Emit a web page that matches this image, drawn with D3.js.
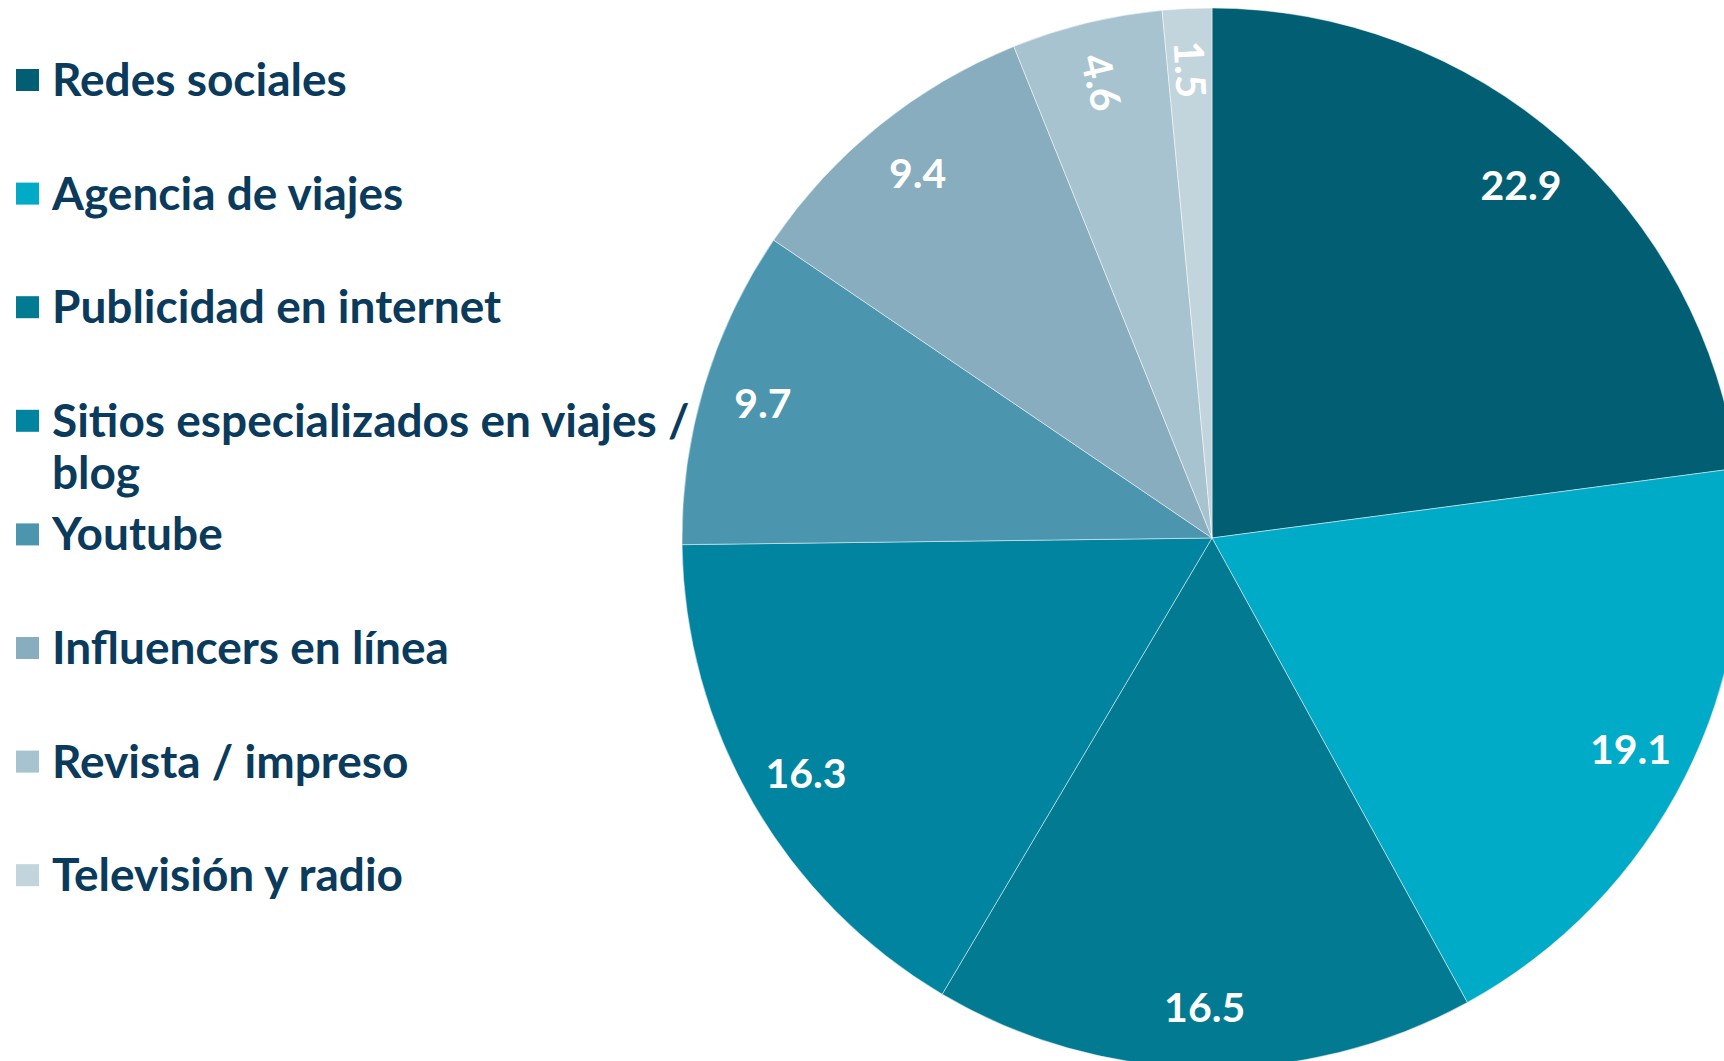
<!DOCTYPE html>
<html>
<head>
<meta charset="utf-8">
<script src="https://cdn.jsdelivr.net/npm/d3@7"></script>
<style>
  html, body { margin: 0; padding: 0; background: #fff; overflow: hidden; }
  svg { display: block; }
</style>
</head>
<body>
<div id="chart"></div>
<script>
var categories = ["Redes sociales", "Agencia de viajes", "Publicidad en internet",
    "Sitios especializados en viajes / blog", "Youtube", "Influencers en línea",
    "Revista / impreso", "Televisión y radio"];
var values = [22.9, 19.1, 16.5, 16.3, 9.7, 9.4, 4.6, 1.5];
var colors = ["#025f73", "#00abc7", "#017a92", "#0084a0", "#4b96ae", "#87adbf", "#a7c3cf", "#c2d5dd"];

var width = 1724, height = 1061;

var svg = d3.select("#chart").append("svg")
    .attr("width", width)
    .attr("height", height);

// pie (partly cropped by the right and bottom edges)
var cx = 1212, cy = 538, radius = 530;

var pie = d3.pie().sort(null).value(d => d.value);
var arc = d3.arc().innerRadius(0).outerRadius(radius);
var labelArc = d3.arc().innerRadius(radius * 0.885).outerRadius(radius * 0.885);

var data = categories.map((c, i) => ({ name: c, value: values[i], color: colors[i] }));
var arcs = pie(data);

var pie_g = svg.append("g").attr("transform", "translate(" + cx + "," + cy + ")");

pie_g.selectAll("path")
    .data(arcs)
    .enter()
    .append("path")
    .attr("d", arc)
    .attr("fill", d => d.data.color)
    .attr("stroke", "rgba(255,255,255,0.6)")
    .attr("stroke-width", 0.8);

pie_g.selectAll(".lbl")
    .data(arcs)
    .enter()
    .append("text")
    .attr("class", "lbl")
    .attr("transform", d => {
        let p = labelArc.centroid(d);
        let mid = (d.startAngle + d.endAngle) / 2 * 180 / Math.PI;
        // the two thin slices get their labels turned along the radius
        let rot = d.data.value < 5 ? mid - 270 : 0;
        return "translate(" + p[0] + "," + p[1] + ") rotate(" + rot + ")";
    })
    .attr("text-anchor", "middle")
    .attr("dy", "0.36em")
    .attr("fill", "#fff")
    .attr("font-family", "Lato")
    .attr("font-weight", 700)
    .attr("font-size", 41)
    .text(d => d.value.toFixed(1));

// legend
var leg_g = svg.append("g");
var rowStep = 113.6, firstRow = 80;

var rows = leg_g.selectAll(".row")
    .data(data)
    .enter()
    .append("g")
    .attr("class", "row")
    .attr("transform", (d, i) => "translate(16," + (firstRow + i * rowStep) + ")");

rows.append("rect")
    .attr("x", 0)
    .attr("y", -11)
    .attr("width", 23)
    .attr("height", 22)
    .attr("fill", d => d.color);

rows.each(function (d) {
    let t = d3.select(this).append("text")
        .attr("x", 36)
        .attr("y", 16)
        .attr("fill", "#0a3a5c")
        .attr("font-family", "Lato")
        .attr("font-weight", 700)
        .attr("font-size", 46);
    // long label wraps after the slash
    let parts = d.name.indexOf("/ blog") > 0 ? [d.name.replace(" blog", ""), "blog"] : [d.name];
    parts.forEach((p, k) => {
        t.append("tspan").attr("x", 36).attr("dy", k ? 52 : 0).text(p);
    });
});
</script>
</body>
</html>
